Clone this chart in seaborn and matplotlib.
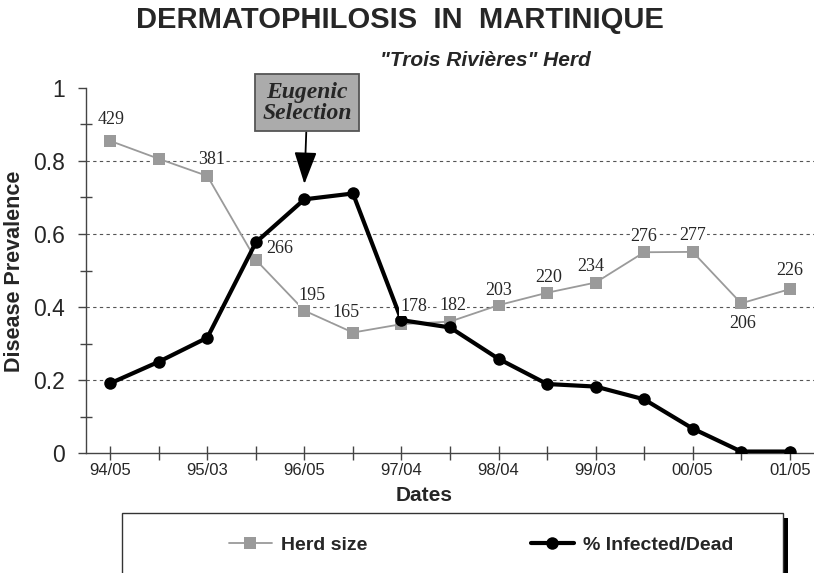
import numpy as np
import pandas as pd
import seaborn as sns
import matplotlib.pyplot as plt
from matplotlib.patches import Rectangle

# Data
dates = ["94/05", "95/03", "96/05", "97/04", "98/04", "99/03", "00/05", "01/05"]
herd_size = [0.855, 0.806, 0.759, 0.529, 0.390, 0.330, 0.353, 0.360,
             0.405, 0.439, 0.467, 0.550, 0.551, 0.410, 0.449]
infected = [0.191, 0.250, 0.316, 0.577, 0.695, 0.711, 0.364, 0.344,
            0.258, 0.189, 0.182, 0.147, 0.067, 0.004, 0.004]
herd_counts = ["429", "", "381", "266", "195", "165", "178", "182",
               "203", "220", "234", "276", "277", "206", "226"]
y_labels = ["0", "0.2", "0.4", "0.6", "0.8", "1"]

# label offsets in pixels (dx, dy) relative to each gray marker
label_offsets = [(1, 21), (0, 0), (4, 16), (24, 11), (8, 15), (-7, 20), (12, 18), (3, 16),
                 (0, 15), (2, 15), (-5, 16), (0, 16), (0, 16), (1, -20), (0, 19)]

df = pd.DataFrame({"idx": np.arange(len(herd_size)), "herd": herd_size, "infected": infected})

sns.set_theme(style="white")
plt.rcParams["font.family"] = ["Liberation Sans", "DejaVu Sans"]

fig = plt.figure(figsize=(8.14, 5.73), dpi=100)
ax = fig.add_axes([86 / 814, 1 - 453 / 573, 1 - 86 / 814, 365 / 573])

gray = "#9a9a9a"
sns.lineplot(data=df, x="idx", y="herd", ax=ax, color=gray, lw=1.3, marker="s",
             markersize=9, markeredgewidth=0, markerfacecolor=gray, label="Herd size", zorder=3)
sns.lineplot(data=df, x="idx", y="infected", ax=ax, color="black", lw=3, marker="o",
             markersize=9, markeredgewidth=0, markerfacecolor="black", label="% Infected/Dead", zorder=4)

# value labels for herd size
for i, (lab, (dx, dy)) in enumerate(zip(herd_counts, label_offsets)):
    if not lab:
        continue
    ax.annotate(lab, xy=(i, herd_size[i]), xytext=(dx, dy), textcoords="offset pixels",
                ha="center", va="center", fontsize=13, family="Liberation Serif", zorder=5,
                bbox=dict(facecolor="white", edgecolor="none", pad=0.6))

# axes
ax.set_xlim(-0.5, 14.5)
ax.set_ylim(0, 1)
ax.set_xticks(np.arange(0, 15, 2), labels=dates)
ax.set_xticks(np.arange(15), minor=True)
ax.set_yticks(np.linspace(0, 1, 6), labels=y_labels)
ax.set_yticks(np.arange(0.1, 1.0, 0.2), minor=True)

for s in ["top", "right"]:
    ax.spines[s].set_visible(False)
for s in ["left", "bottom"]:
    ax.spines[s].set_color("#444444")
    ax.spines[s].set_linewidth(1.0)

ax.tick_params(axis="x", which="both", direction="inout", length=10, width=1,
               color="#444444", labelsize=12, pad=2, bottom=True)
ax.tick_params(axis="y", which="major", direction="out", length=6, width=1,
               color="#444444", labelsize=16.5, pad=9, left=True)
ax.tick_params(axis="y", which="minor", direction="inout", length=8, width=1,
               color="#444444", left=True)

for yv in [0.2, 0.4, 0.6, 0.8]:
    ax.axhline(yv, color="#555555", lw=0.8, ls=(0, (3, 3)), zorder=1)

ax.set_xlabel("Dates", fontsize=15, fontweight="bold")
ax.xaxis.set_label_coords((424 - 86) / 728, (453 - 486) / 365)
ax.set_ylabel("Disease Prevalence", fontsize=15.5, fontweight="bold")
ax.yaxis.set_label_coords((25 - 86) / 728, (453 - 271) / 365)

# eugenic selection callout
ax.annotate("Eugenic\nSelection", xy=(4, 0.737), xytext=(4.06, 0.959),
            ha="center", va="center", fontsize=17, fontweight="bold", fontstyle="italic",
            family="Liberation Serif", linespacing=1.05, annotation_clip=False,
            bbox=dict(boxstyle="square,pad=0.3", facecolor="#ababab", edgecolor="#555555", lw=1.3),
            arrowprops=dict(arrowstyle="-|>,head_length=1.0,head_width=0.35", color="black",
                            lw=1.3, shrinkA=0, shrinkB=0, mutation_scale=20))

# titles
fig.text(400 / 814, 1 - 20 / 573, "DERMATOPHILOSIS  IN  MARTINIQUE", ha="center", va="center",
         fontsize=21, fontweight="bold")
fig.text(485 / 814, 1 - 60 / 573, "\"Trois Rivières\" Herd", ha="center", va="center",
         fontsize=15, fontweight="bold", fontstyle="italic")

# legend box with shadow
handles, labels = ax.get_legend_handles_labels()
ax.get_legend().remove()
x0, y0 = 122 / 814, 1 - 513 / 573
w, h = (783 - 122) / 814, 0.3
fig.patches.append(Rectangle((x0 + 5 / 814, y0 - 5 / 573 - h), w, h, transform=fig.transFigure,
                             facecolor="black", edgecolor="none", zorder=0))
fig.patches.append(Rectangle((x0, y0 - h), w, h, transform=fig.transFigure,
                             facecolor="white", edgecolor="#333333", lw=1, zorder=1))
fig.legend(handles, labels, loc="center left", bbox_to_anchor=(219 / 814, 1 - 545 / 573),
           ncol=2, frameon=False, borderpad=0, handlelength=2.2, handletextpad=0.5,
           columnspacing=8.4, prop=dict(size=14, weight="bold"))

fig.savefig("out.png", dpi=100)
